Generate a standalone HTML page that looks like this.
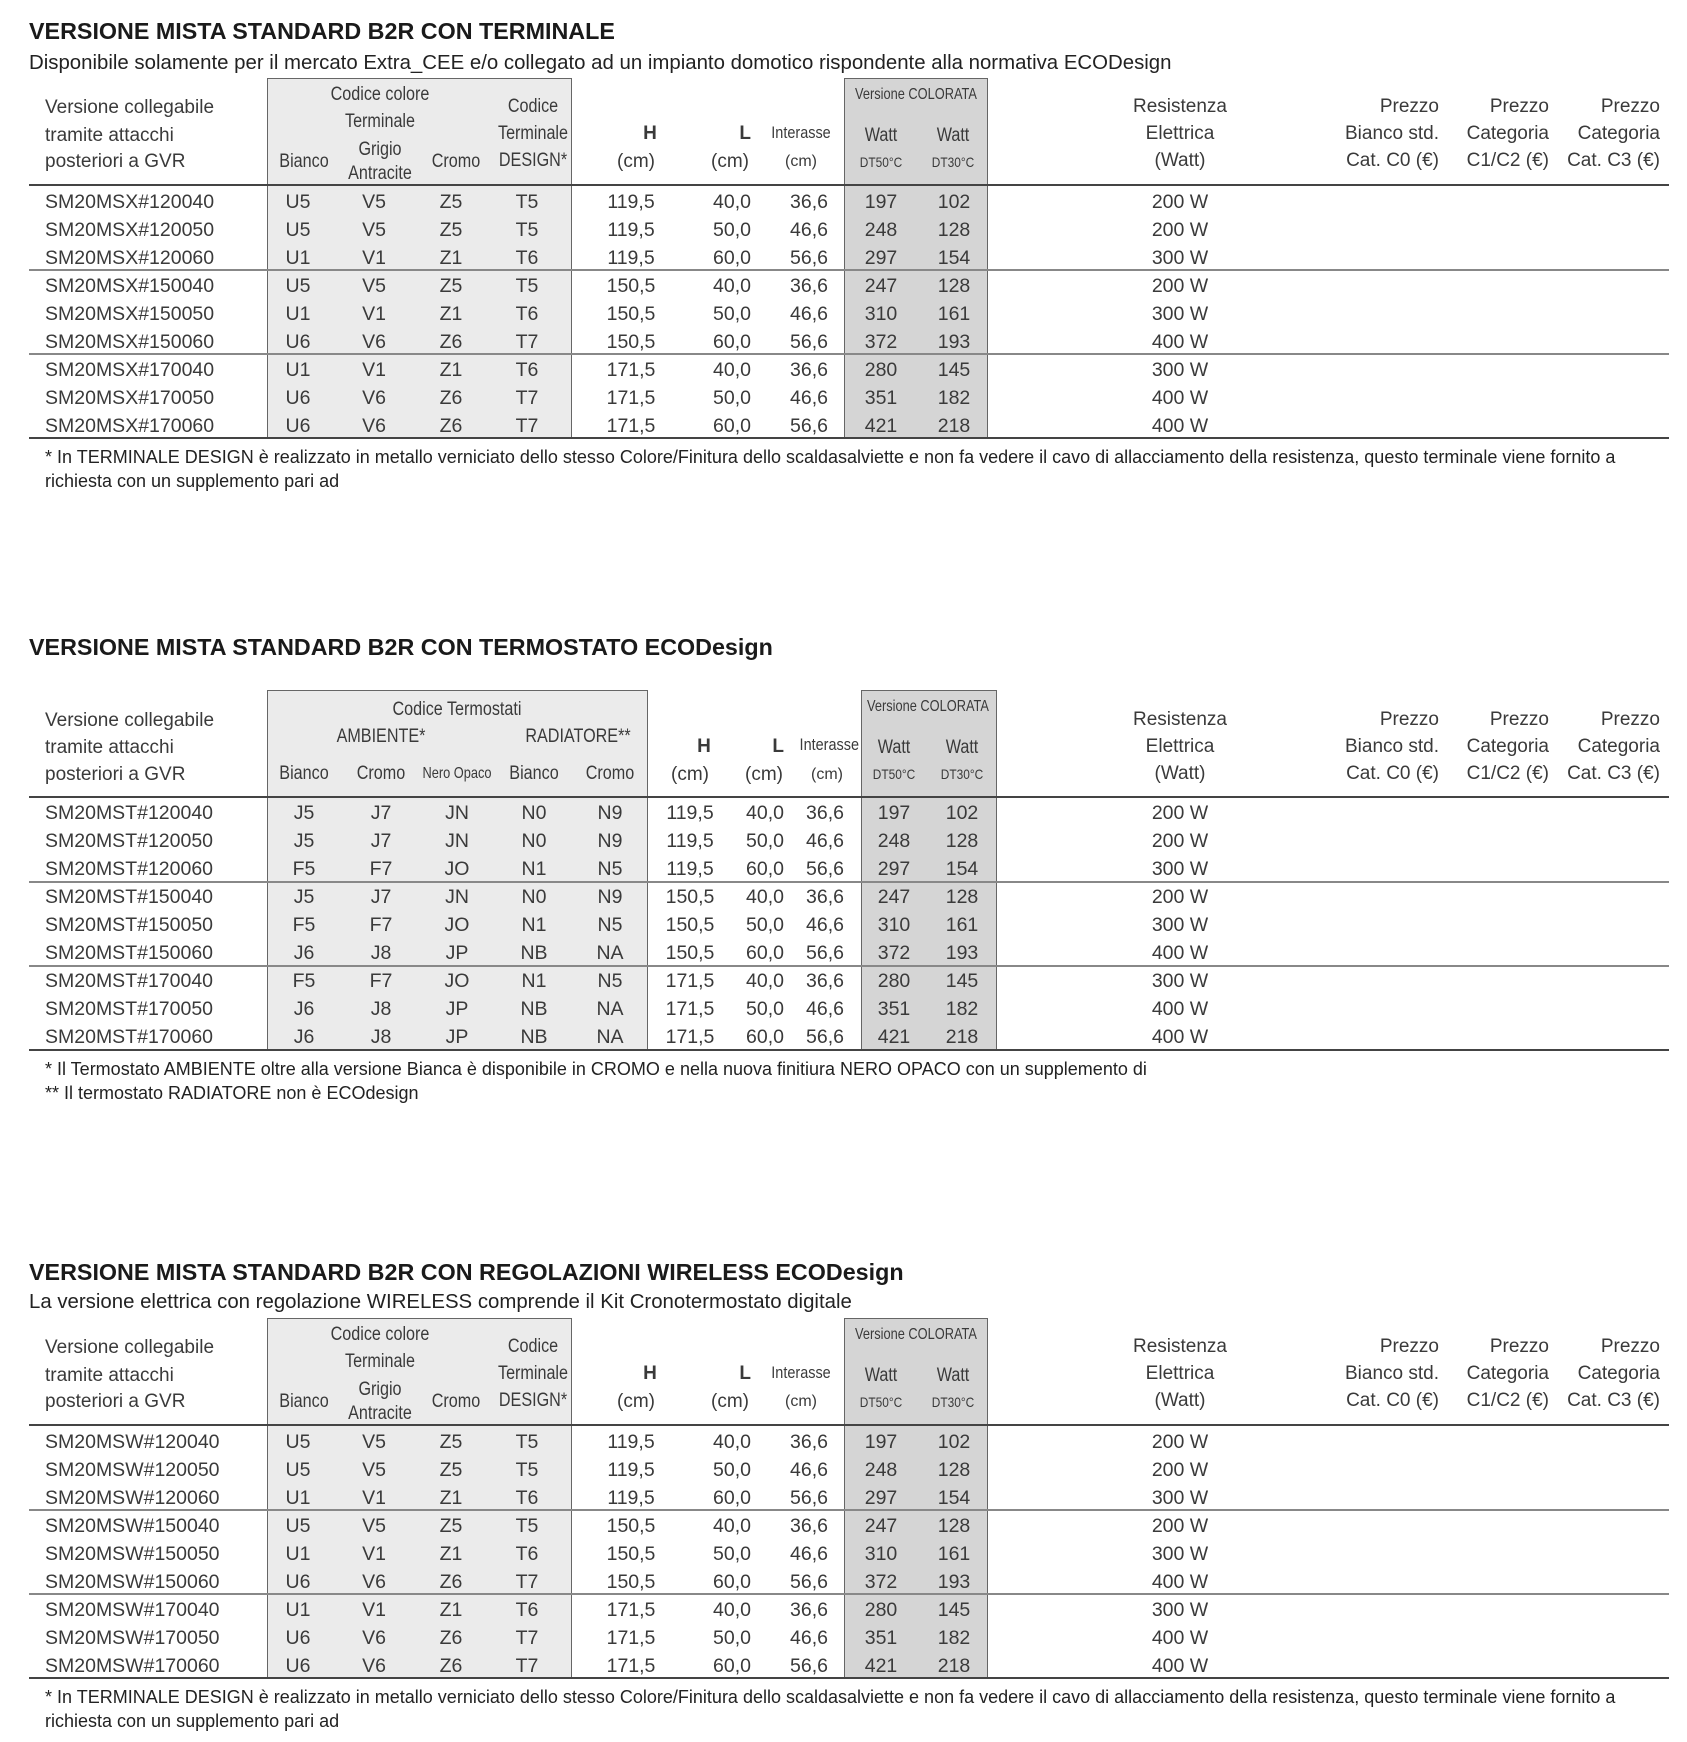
<!DOCTYPE html>
<html><head><meta charset="utf-8"><style>
body{margin:0;background:#fff;}
#p{position:relative;width:1687px;height:1742px;overflow:hidden;font-family:"Liberation Sans",sans-serif;color:#3a3a3a;font-size:19.5px}
.s{position:absolute;left:0;width:1687px;height:500px}
.t{position:absolute;left:29px;font-weight:bold;font-size:23.3px;color:#1a1a1a;line-height:28px;white-space:nowrap}
.sub{position:absolute;left:29px;font-size:20.4px;color:#222;line-height:24px;white-space:nowrap}
.fn{position:absolute;left:45px;font-size:18px;color:#222;line-height:24px;white-space:nowrap}
.g1{position:absolute;background:#ebebeb;border:1.5px solid #666;border-bottom:none}
.g2{position:absolute;background:#d5d5d5;border:1.5px solid #666;border-bottom:none}
.hl{position:absolute;left:29px;width:1640px;height:2px;background:#444}
.gl{position:absolute;left:29px;width:1640px;height:2px;background:#888}
.h{position:absolute;line-height:24px;white-space:nowrap;font-size:19px}
.c{transform:translateX(-50%)}
.c.n8{transform:translateX(-50%) scaleX(.85)}
.r{transform:translateX(-100%)}
.r.n8{transform:translateX(-100%) scaleX(.85);transform-origin:right center}
.sm{font-size:16px}
.xs{font-size:14px}
.cs{transform:translateX(-50%) scaleX(.8);font-size:16px}
.bd{font-weight:bold}
.row{position:absolute;left:0;width:1687px;height:28px}
.row span{position:absolute;top:0;line-height:28px;text-align:center;width:90px;white-space:nowrap}
.row .k{left:45px;width:auto;text-align:left}
.A .b{left:253px}.A .g{left:329px}.A .cr{left:406px}.A .d{left:482px}
.A .H{left:586px}.A .L{left:661px;text-align:right}.A .I{left:738px;text-align:right}
.A .w1{left:836px}.A .w2{left:909px}
.row .R{left:1125px;width:110px}
.B .b{left:259px}.B .cr{left:336px}.B .n{left:412px}.B .b2{left:489px}.B .c2{left:565px}
.B .H{left:645px}.B .L{left:694px;text-align:right}.B .I{left:754px;text-align:right}
.B .w1{left:849px}.B .w2{left:917px}
</style></head><body><div id="p">

<!-- SECTION 1 -->
<div class="s A" style="top:0">
<div class="t" style="top:17px">VERSIONE MISTA STANDARD B2R CON TERMINALE</div>
<div class="sub" style="top:51px">Disponibile solamente per il mercato Extra_CEE e/o collegato ad un impianto domotico rispondente alla normativa ECODesign</div>
<div class="g1" style="left:267px;top:78px;width:303px;height:360px"></div>
<div class="g2" style="left:844px;top:78px;width:142px;height:360px"></div>
<div class="h" style="left:45px;top:96px">Versione collegabile</div>
<div class="h" style="left:45px;top:124px">tramite attacchi</div>
<div class="h" style="left:45px;top:150px">posteriori a GVR</div>
<div class="h c n8" style="left:380px;top:83px">Codice colore</div>
<div class="h c n8" style="left:380px;top:110px">Terminale</div>
<div class="h c n8" style="left:380px;top:138px">Grigio</div>
<div class="h c n8" style="left:380px;top:162px">Antracite</div>
<div class="h c n8" style="left:304px;top:150px">Bianco</div>
<div class="h c n8" style="left:456px;top:150px">Cromo</div>
<div class="h c n8" style="left:533px;top:95px">Codice</div>
<div class="h c n8" style="left:533px;top:122px">Terminale</div>
<div class="h c n8" style="left:533px;top:149px">DESIGN*</div>
<div class="h c bd" style="left:650px;top:122px">H</div>
<div class="h c" style="left:636px;top:150px">(cm)</div>
<div class="h r bd" style="left:751px;top:122px">L</div>
<div class="h c" style="left:730px;top:150px">(cm)</div>
<div class="h c n8" style="left:801px;top:121px;font-size:17px">Interasse</div>
<div class="h c sm" style="left:801px;top:150px">(cm)</div>
<div class="h cs" style="left:916px;top:83px">Versione COLORATA</div>
<div class="h c n8" style="left:881px;top:124px">Watt</div>
<div class="h c n8" style="left:953px;top:124px">Watt</div>
<div class="h c xs n8" style="left:881px;top:150px">DT50°C</div>
<div class="h c xs n8" style="left:953px;top:150px">DT30°C</div>
<div class="h c" style="left:1180px;top:95px">Resistenza</div>
<div class="h c" style="left:1180px;top:122px">Elettrica</div>
<div class="h c" style="left:1180px;top:149px">(Watt)</div>
<div class="h r" style="left:1439px;top:95px">Prezzo</div>
<div class="h r" style="left:1439px;top:122px">Bianco std.</div>
<div class="h r" style="left:1439px;top:149px">Cat. C0 (€)</div>
<div class="h r" style="left:1549px;top:95px">Prezzo</div>
<div class="h r" style="left:1549px;top:122px">Categoria</div>
<div class="h r" style="left:1549px;top:149px">C1/C2 (€)</div>
<div class="h r" style="left:1660px;top:95px">Prezzo</div>
<div class="h r" style="left:1660px;top:122px">Categoria</div>
<div class="h r" style="left:1660px;top:149px">Cat. C3 (€)</div>
<div class="hl" style="top:184px"></div>
<div class="gl" style="top:269px"></div>
<div class="gl" style="top:353px"></div>
<div class="hl" style="top:437px"></div>
<div class="row" style="top:188px"><span class="k">SM20MSX#120040</span><span class="b">U5</span><span class="g">V5</span><span class="cr">Z5</span><span class="d">T5</span><span class="H">119,5</span><span class="L">40,0</span><span class="I">36,6</span><span class="w1">197</span><span class="w2">102</span><span class="R">200 W</span></div>
<div class="row" style="top:216px"><span class="k">SM20MSX#120050</span><span class="b">U5</span><span class="g">V5</span><span class="cr">Z5</span><span class="d">T5</span><span class="H">119,5</span><span class="L">50,0</span><span class="I">46,6</span><span class="w1">248</span><span class="w2">128</span><span class="R">200 W</span></div>
<div class="row" style="top:244px"><span class="k">SM20MSX#120060</span><span class="b">U1</span><span class="g">V1</span><span class="cr">Z1</span><span class="d">T6</span><span class="H">119,5</span><span class="L">60,0</span><span class="I">56,6</span><span class="w1">297</span><span class="w2">154</span><span class="R">300 W</span></div>
<div class="row" style="top:272px"><span class="k">SM20MSX#150040</span><span class="b">U5</span><span class="g">V5</span><span class="cr">Z5</span><span class="d">T5</span><span class="H">150,5</span><span class="L">40,0</span><span class="I">36,6</span><span class="w1">247</span><span class="w2">128</span><span class="R">200 W</span></div>
<div class="row" style="top:300px"><span class="k">SM20MSX#150050</span><span class="b">U1</span><span class="g">V1</span><span class="cr">Z1</span><span class="d">T6</span><span class="H">150,5</span><span class="L">50,0</span><span class="I">46,6</span><span class="w1">310</span><span class="w2">161</span><span class="R">300 W</span></div>
<div class="row" style="top:328px"><span class="k">SM20MSX#150060</span><span class="b">U6</span><span class="g">V6</span><span class="cr">Z6</span><span class="d">T7</span><span class="H">150,5</span><span class="L">60,0</span><span class="I">56,6</span><span class="w1">372</span><span class="w2">193</span><span class="R">400 W</span></div>
<div class="row" style="top:356px"><span class="k">SM20MSX#170040</span><span class="b">U1</span><span class="g">V1</span><span class="cr">Z1</span><span class="d">T6</span><span class="H">171,5</span><span class="L">40,0</span><span class="I">36,6</span><span class="w1">280</span><span class="w2">145</span><span class="R">300 W</span></div>
<div class="row" style="top:384px"><span class="k">SM20MSX#170050</span><span class="b">U6</span><span class="g">V6</span><span class="cr">Z6</span><span class="d">T7</span><span class="H">171,5</span><span class="L">50,0</span><span class="I">46,6</span><span class="w1">351</span><span class="w2">182</span><span class="R">400 W</span></div>
<div class="row" style="top:412px"><span class="k">SM20MSX#170060</span><span class="b">U6</span><span class="g">V6</span><span class="cr">Z6</span><span class="d">T7</span><span class="H">171,5</span><span class="L">60,0</span><span class="I">56,6</span><span class="w1">421</span><span class="w2">218</span><span class="R">400 W</span></div>
<div class="fn" style="top:445px;left:45px">* In TERMINALE DESIGN è realizzato in metallo verniciato dello stesso Colore/Finitura dello scaldasalviette e non fa vedere il cavo di allacciamento della resistenza, questo terminale viene fornito a</div>
<div class="fn" style="top:469px">richiesta con un supplemento pari ad</div>
</div>

<!-- SECTION 2 -->
<div class="s B" style="top:611px">
<div class="t" style="top:22px">VERSIONE MISTA STANDARD B2R CON TERMOSTATO ECODesign</div>
<div class="g1" style="left:267px;top:79px;width:379px;height:360px"></div>
<div class="g2" style="left:861px;top:79px;width:134px;height:360px"></div>
<div class="h" style="left:45px;top:98px">Versione collegabile</div>
<div class="h" style="left:45px;top:125px">tramite attacchi</div>
<div class="h" style="left:45px;top:152px">posteriori a GVR</div>
<div class="h c n8" style="left:457px;top:87px">Codice Termostati</div>
<div class="h c n8" style="left:381px;top:114px">AMBIENTE*</div>
<div class="h c n8" style="left:578px;top:114px">RADIATORE**</div>
<div class="h c n8" style="left:304px;top:151px">Bianco</div>
<div class="h c n8" style="left:381px;top:151px">Cromo</div>
<div class="h cs" style="left:457px;top:151px">Nero Opaco</div>
<div class="h c n8" style="left:534px;top:151px">Bianco</div>
<div class="h c n8" style="left:610px;top:151px">Cromo</div>
<div class="h c bd" style="left:704px;top:124px">H</div>
<div class="h c" style="left:690px;top:152px">(cm)</div>
<div class="h r bd" style="left:784px;top:124px">L</div>
<div class="h c" style="left:764px;top:152px">(cm)</div>
<div class="h r n8" style="left:859px;top:122px;font-size:17px">Interasse</div>
<div class="h c sm" style="left:827px;top:152px">(cm)</div>
<div class="h cs" style="left:928px;top:84px">Versione COLORATA</div>
<div class="h c n8" style="left:894px;top:125px">Watt</div>
<div class="h c n8" style="left:962px;top:125px">Watt</div>
<div class="h c xs n8" style="left:894px;top:151px">DT50°C</div>
<div class="h c xs n8" style="left:962px;top:151px">DT30°C</div>
<div class="h c" style="left:1180px;top:97px">Resistenza</div>
<div class="h c" style="left:1180px;top:124px">Elettrica</div>
<div class="h c" style="left:1180px;top:151px">(Watt)</div>
<div class="h r" style="left:1439px;top:97px">Prezzo</div>
<div class="h r" style="left:1439px;top:124px">Bianco std.</div>
<div class="h r" style="left:1439px;top:151px">Cat. C0 (€)</div>
<div class="h r" style="left:1549px;top:97px">Prezzo</div>
<div class="h r" style="left:1549px;top:124px">Categoria</div>
<div class="h r" style="left:1549px;top:151px">C1/C2 (€)</div>
<div class="h r" style="left:1660px;top:97px">Prezzo</div>
<div class="h r" style="left:1660px;top:124px">Categoria</div>
<div class="h r" style="left:1660px;top:151px">Cat. C3 (€)</div>
<div class="hl" style="top:185px"></div>
<div class="gl" style="top:270px"></div>
<div class="gl" style="top:354px"></div>
<div class="hl" style="top:438px"></div>
<div class="row" style="top:188px"><span class="k">SM20MST#120040</span><span class="b">J5</span><span class="cr">J7</span><span class="n">JN</span><span class="b2">N0</span><span class="c2">N9</span><span class="H">119,5</span><span class="L">40,0</span><span class="I">36,6</span><span class="w1">197</span><span class="w2">102</span><span class="R">200 W</span></div>
<div class="row" style="top:216px"><span class="k">SM20MST#120050</span><span class="b">J5</span><span class="cr">J7</span><span class="n">JN</span><span class="b2">N0</span><span class="c2">N9</span><span class="H">119,5</span><span class="L">50,0</span><span class="I">46,6</span><span class="w1">248</span><span class="w2">128</span><span class="R">200 W</span></div>
<div class="row" style="top:244px"><span class="k">SM20MST#120060</span><span class="b">F5</span><span class="cr">F7</span><span class="n">JO</span><span class="b2">N1</span><span class="c2">N5</span><span class="H">119,5</span><span class="L">60,0</span><span class="I">56,6</span><span class="w1">297</span><span class="w2">154</span><span class="R">300 W</span></div>
<div class="row" style="top:272px"><span class="k">SM20MST#150040</span><span class="b">J5</span><span class="cr">J7</span><span class="n">JN</span><span class="b2">N0</span><span class="c2">N9</span><span class="H">150,5</span><span class="L">40,0</span><span class="I">36,6</span><span class="w1">247</span><span class="w2">128</span><span class="R">200 W</span></div>
<div class="row" style="top:300px"><span class="k">SM20MST#150050</span><span class="b">F5</span><span class="cr">F7</span><span class="n">JO</span><span class="b2">N1</span><span class="c2">N5</span><span class="H">150,5</span><span class="L">50,0</span><span class="I">46,6</span><span class="w1">310</span><span class="w2">161</span><span class="R">300 W</span></div>
<div class="row" style="top:328px"><span class="k">SM20MST#150060</span><span class="b">J6</span><span class="cr">J8</span><span class="n">JP</span><span class="b2">NB</span><span class="c2">NA</span><span class="H">150,5</span><span class="L">60,0</span><span class="I">56,6</span><span class="w1">372</span><span class="w2">193</span><span class="R">400 W</span></div>
<div class="row" style="top:356px"><span class="k">SM20MST#170040</span><span class="b">F5</span><span class="cr">F7</span><span class="n">JO</span><span class="b2">N1</span><span class="c2">N5</span><span class="H">171,5</span><span class="L">40,0</span><span class="I">36,6</span><span class="w1">280</span><span class="w2">145</span><span class="R">300 W</span></div>
<div class="row" style="top:384px"><span class="k">SM20MST#170050</span><span class="b">J6</span><span class="cr">J8</span><span class="n">JP</span><span class="b2">NB</span><span class="c2">NA</span><span class="H">171,5</span><span class="L">50,0</span><span class="I">46,6</span><span class="w1">351</span><span class="w2">182</span><span class="R">400 W</span></div>
<div class="row" style="top:412px"><span class="k">SM20MST#170060</span><span class="b">J6</span><span class="cr">J8</span><span class="n">JP</span><span class="b2">NB</span><span class="c2">NA</span><span class="H">171,5</span><span class="L">60,0</span><span class="I">56,6</span><span class="w1">421</span><span class="w2">218</span><span class="R">400 W</span></div>
<div class="fn" style="top:446px">* Il Termostato AMBIENTE oltre alla versione Bianca è disponibile in CROMO e nella nuova finitiura NERO OPACO con un supplemento di</div>
<div class="fn" style="top:470px">** Il termostato RADIATORE non è ECOdesign</div>
</div>

<!-- SECTION 3 -->
<div class="s A" style="top:1240px">
<div class="t" style="top:18px">VERSIONE MISTA STANDARD B2R CON REGOLAZIONI WIRELESS ECODesign</div>
<div class="sub" style="top:50px">La versione elettrica con regolazione WIRELESS comprende il Kit Cronotermostato digitale</div>
<div class="g1" style="left:267px;top:78px;width:303px;height:360px"></div>
<div class="g2" style="left:844px;top:78px;width:142px;height:360px"></div>
<div class="h" style="left:45px;top:96px">Versione collegabile</div>
<div class="h" style="left:45px;top:124px">tramite attacchi</div>
<div class="h" style="left:45px;top:150px">posteriori a GVR</div>
<div class="h c n8" style="left:380px;top:83px">Codice colore</div>
<div class="h c n8" style="left:380px;top:110px">Terminale</div>
<div class="h c n8" style="left:380px;top:138px">Grigio</div>
<div class="h c n8" style="left:380px;top:162px">Antracite</div>
<div class="h c n8" style="left:304px;top:150px">Bianco</div>
<div class="h c n8" style="left:456px;top:150px">Cromo</div>
<div class="h c n8" style="left:533px;top:95px">Codice</div>
<div class="h c n8" style="left:533px;top:122px">Terminale</div>
<div class="h c n8" style="left:533px;top:149px">DESIGN*</div>
<div class="h c bd" style="left:650px;top:122px">H</div>
<div class="h c" style="left:636px;top:150px">(cm)</div>
<div class="h r bd" style="left:751px;top:122px">L</div>
<div class="h c" style="left:730px;top:150px">(cm)</div>
<div class="h c n8" style="left:801px;top:121px;font-size:17px">Interasse</div>
<div class="h c sm" style="left:801px;top:150px">(cm)</div>
<div class="h cs" style="left:916px;top:83px">Versione COLORATA</div>
<div class="h c n8" style="left:881px;top:124px">Watt</div>
<div class="h c n8" style="left:953px;top:124px">Watt</div>
<div class="h c xs n8" style="left:881px;top:150px">DT50°C</div>
<div class="h c xs n8" style="left:953px;top:150px">DT30°C</div>
<div class="h c" style="left:1180px;top:95px">Resistenza</div>
<div class="h c" style="left:1180px;top:122px">Elettrica</div>
<div class="h c" style="left:1180px;top:149px">(Watt)</div>
<div class="h r" style="left:1439px;top:95px">Prezzo</div>
<div class="h r" style="left:1439px;top:122px">Bianco std.</div>
<div class="h r" style="left:1439px;top:149px">Cat. C0 (€)</div>
<div class="h r" style="left:1549px;top:95px">Prezzo</div>
<div class="h r" style="left:1549px;top:122px">Categoria</div>
<div class="h r" style="left:1549px;top:149px">C1/C2 (€)</div>
<div class="h r" style="left:1660px;top:95px">Prezzo</div>
<div class="h r" style="left:1660px;top:122px">Categoria</div>
<div class="h r" style="left:1660px;top:149px">Cat. C3 (€)</div>
<div class="hl" style="top:184px"></div>
<div class="gl" style="top:269px"></div>
<div class="gl" style="top:353px"></div>
<div class="hl" style="top:437px"></div>
<div class="row" style="top:188px"><span class="k">SM20MSW#120040</span><span class="b">U5</span><span class="g">V5</span><span class="cr">Z5</span><span class="d">T5</span><span class="H">119,5</span><span class="L">40,0</span><span class="I">36,6</span><span class="w1">197</span><span class="w2">102</span><span class="R">200 W</span></div>
<div class="row" style="top:216px"><span class="k">SM20MSW#120050</span><span class="b">U5</span><span class="g">V5</span><span class="cr">Z5</span><span class="d">T5</span><span class="H">119,5</span><span class="L">50,0</span><span class="I">46,6</span><span class="w1">248</span><span class="w2">128</span><span class="R">200 W</span></div>
<div class="row" style="top:244px"><span class="k">SM20MSW#120060</span><span class="b">U1</span><span class="g">V1</span><span class="cr">Z1</span><span class="d">T6</span><span class="H">119,5</span><span class="L">60,0</span><span class="I">56,6</span><span class="w1">297</span><span class="w2">154</span><span class="R">300 W</span></div>
<div class="row" style="top:272px"><span class="k">SM20MSW#150040</span><span class="b">U5</span><span class="g">V5</span><span class="cr">Z5</span><span class="d">T5</span><span class="H">150,5</span><span class="L">40,0</span><span class="I">36,6</span><span class="w1">247</span><span class="w2">128</span><span class="R">200 W</span></div>
<div class="row" style="top:300px"><span class="k">SM20MSW#150050</span><span class="b">U1</span><span class="g">V1</span><span class="cr">Z1</span><span class="d">T6</span><span class="H">150,5</span><span class="L">50,0</span><span class="I">46,6</span><span class="w1">310</span><span class="w2">161</span><span class="R">300 W</span></div>
<div class="row" style="top:328px"><span class="k">SM20MSW#150060</span><span class="b">U6</span><span class="g">V6</span><span class="cr">Z6</span><span class="d">T7</span><span class="H">150,5</span><span class="L">60,0</span><span class="I">56,6</span><span class="w1">372</span><span class="w2">193</span><span class="R">400 W</span></div>
<div class="row" style="top:356px"><span class="k">SM20MSW#170040</span><span class="b">U1</span><span class="g">V1</span><span class="cr">Z1</span><span class="d">T6</span><span class="H">171,5</span><span class="L">40,0</span><span class="I">36,6</span><span class="w1">280</span><span class="w2">145</span><span class="R">300 W</span></div>
<div class="row" style="top:384px"><span class="k">SM20MSW#170050</span><span class="b">U6</span><span class="g">V6</span><span class="cr">Z6</span><span class="d">T7</span><span class="H">171,5</span><span class="L">50,0</span><span class="I">46,6</span><span class="w1">351</span><span class="w2">182</span><span class="R">400 W</span></div>
<div class="row" style="top:412px"><span class="k">SM20MSW#170060</span><span class="b">U6</span><span class="g">V6</span><span class="cr">Z6</span><span class="d">T7</span><span class="H">171,5</span><span class="L">60,0</span><span class="I">56,6</span><span class="w1">421</span><span class="w2">218</span><span class="R">400 W</span></div>
<div class="fn" style="top:445px">* In TERMINALE DESIGN è realizzato in metallo verniciato dello stesso Colore/Finitura dello scaldasalviette e non fa vedere il cavo di allacciamento della resistenza, questo terminale viene fornito a</div>
<div class="fn" style="top:469px">richiesta con un supplemento pari ad</div>
</div>

</div></body></html>
